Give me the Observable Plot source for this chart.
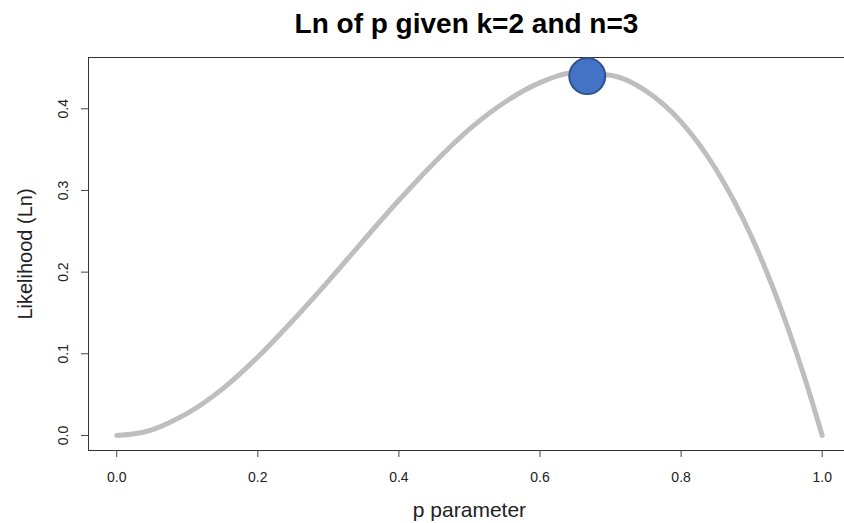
<!DOCTYPE html>
<html>
<head>
<meta charset="utf-8">
<script src="https://cdn.jsdelivr.net/npm/d3@7"></script>
<script src="https://cdn.jsdelivr.net/npm/@observablehq/plot@0.6"></script>
<style>
  html, body { margin: 0; padding: 0; background: #fff; overflow: hidden; }
  #chart svg { display: block; }
</style>
</head>
<body>
<div id="chart"></div>
<script>
// Likelihood of p for k = 2 successes in n = 3 trials
const pValues = [0, 0.025, 0.05, 0.075, 0.1, 0.15, 0.2, 0.25, 0.3, 0.35, 0.4, 0.45, 0.5,
                 0.55, 0.6, 0.65, 0.7, 0.75, 0.8, 0.85, 0.9, 0.95, 0.975, 1];
const likelihood = [0, 0.002, 0.007, 0.016, 0.027, 0.057, 0.096, 0.141, 0.189, 0.239, 0.288, 0.334, 0.375,
                    0.408, 0.432, 0.444, 0.441, 0.422, 0.384, 0.325, 0.243, 0.135, 0.071, 0];

// maximum-likelihood estimate marker
const mleP = [0.667];
const mleL = [0.44];

const xTicks = [0, 0.2, 0.4, 0.6, 0.8, 1];
const yTicks = [0, 0.1, 0.2, 0.3, 0.4];

const titleText = "Ln of p given k=2 and n=3";
const xLabel = "p parameter";
const yLabel = "Likelihood (Ln)";

const curve = pValues.map((p, i) => ({p, L: likelihood[i]}));
const mle = mleP.map((p, i) => ({p, L: mleL[i]}));

const xDomain = [-0.04, 1.0316];
const yDomain = [-0.0184, 0.4628];

const font = "'Liberation Sans', Arial, Helvetica, sans-serif";

const chart = Plot.plot({
  width: 844,
  height: 523,
  marginLeft: 88,
  marginRight: 0,
  marginTop: 57,
  marginBottom: 73,
  style: {fontFamily: font, color: "#222", background: "#fff"},
  x: {domain: xDomain},
  y: {domain: yDomain},
  marks: [
    // plot box (right side falls beyond the page edge)
    Plot.ruleX([xDomain[0]], {stroke: "#333", strokeWidth: 1}),
    Plot.ruleY([yDomain[0]], {stroke: "#333", strokeWidth: 1}),
    Plot.ruleY([yDomain[1]], {stroke: "#333", strokeWidth: 1}),

    Plot.axisX({
      ticks: xTicks, tickSize: 7, tickPadding: 15, fontSize: 14,
      tickFormat: d => d.toFixed(1), label: null, stroke: "#444"
    }),
    Plot.axisY({
      ticks: yTicks, tickSize: 7, tickFormat: () => "", label: null, stroke: "#444"
    }),
    // rotated y tick labels
    Plot.text(yTicks, {
      y: d => d, text: d => d.toFixed(1), frameAnchor: "left",
      dx: -25, rotate: -90, textAnchor: "middle", fontSize: 14, fill: "#222"
    }),

    Plot.line(curve, {
      x: "p", y: "L", curve: "monotone-x",
      stroke: "#bebebe", strokeWidth: 5, strokeLinecap: "round"
    }),
    Plot.dot(mle, {
      x: "p", y: "L", r: 18, fill: "#4472C4", stroke: "#2F528F", strokeWidth: 2
    }),

    // title and axis labels
    Plot.text([titleText], {
      x: () => 0.5, frameAnchor: "top", dx: -3, dy: -33, text: d => d,
      fontSize: 28, fontWeight: "bold", fill: "#000", lineAnchor: "middle"
    }),
    Plot.text([xLabel], {
      x: () => 0.5, frameAnchor: "bottom", dy: 60, text: d => d,
      fontSize: 21, fill: "#222", lineAnchor: "middle"
    }),
    Plot.text([yLabel], {
      frameAnchor: "left", dx: -63, rotate: -90, text: d => d,
      fontSize: 20, fill: "#222", lineAnchor: "middle", textAnchor: "middle"
    })
  ]
});

document.getElementById("chart").append(chart);
</script>
</body>
</html>
